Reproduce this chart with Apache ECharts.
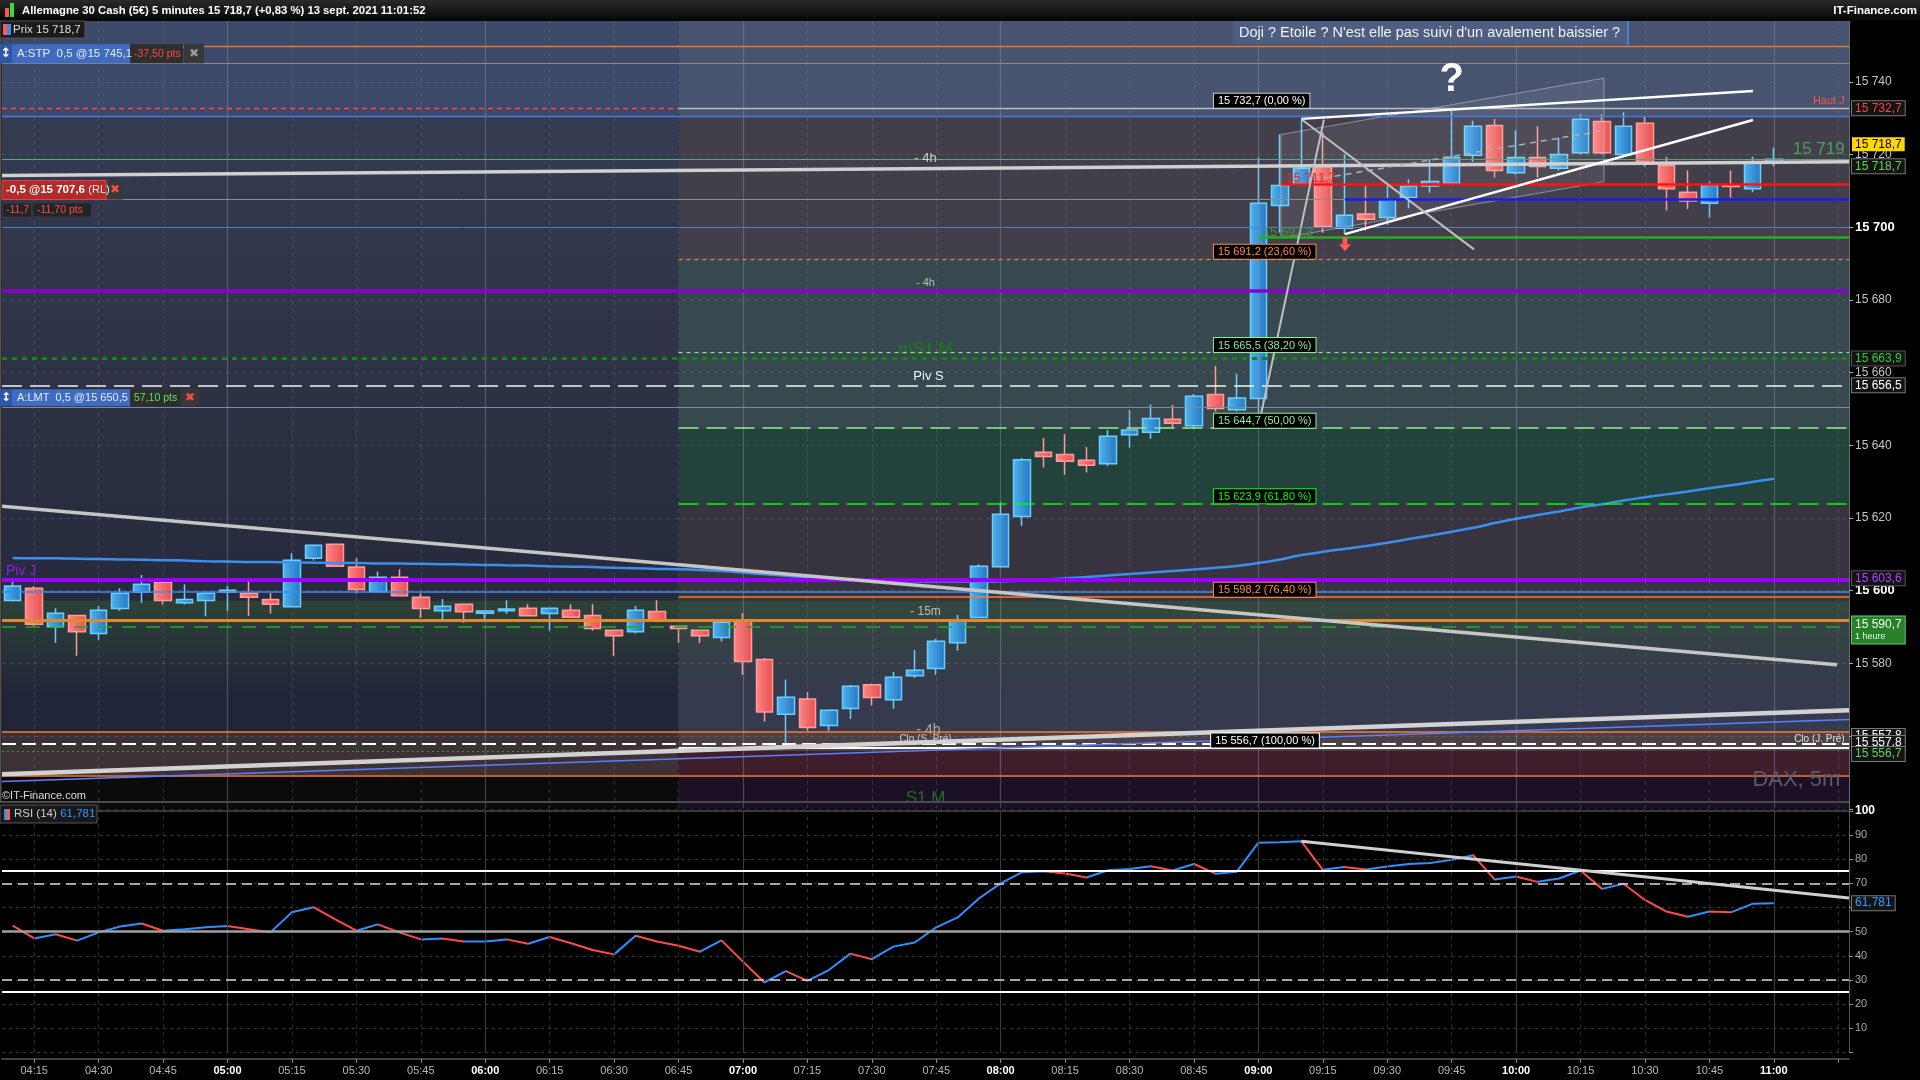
<!DOCTYPE html>
<html><head><meta charset="utf-8">
<script src="https://cdn.jsdelivr.net/npm/echarts@6/dist/echarts.min.js"></script>
<style>html,body{margin:0;padding:0;background:#000;}#c{width:1920px;height:1080px;}</style>
</head><body><div id="c"></div>
<script>
// ---------- DATA ----------
const categories = ['04:10','04:15','04:20','04:25','04:30','04:35','04:40','04:45','04:50','04:55',
'05:00','05:05','05:10','05:15','05:20','05:25','05:30','05:35','05:40','05:45','05:50','05:55',
'06:00','06:05','06:10','06:15','06:20','06:25','06:30','06:35','06:40','06:45','06:50','06:55',
'07:00','07:05','07:10','07:15','07:20','07:25','07:30','07:35','07:40','07:45','07:50','07:55',
'08:00','08:05','08:10','08:15','08:20','08:25','08:30','08:35','08:40','08:45','08:50','08:55',
'09:00','09:05','09:10','09:15','09:20','09:25','09:30','09:35','09:40','09:45','09:50','09:55',
'10:00','10:05','10:10','10:15','10:20','10:25','10:30','10:35','10:40','10:45','10:50','10:55',
'11:00','11:05','11:10','11:15'];

const opens = [15597.3,15600.7,15590.1,15593.2,15588.2,15595.1,15599.6,15602.3,15596.7,15597.3,
15599.6,15599.3,15597.6,15595.6,15608.9,15612.8,15606.5,15599.7,15603.7,15598.2,
15594.5,15596.3,15593.8,15594.5,15595.2,15593.7,15594.6,15593.2,15589.1,15588.7,
15594.3,15590.2,15589.1,15587.1,15591.9,15581.1,15566.0,15570.2,15562.9,15567.6,
15574.1,15570.0,15576.6,15578.6,15585.7,15592.6,15606.6,15620.4,15638.1,15637.5,
15635.9,15634.9,15642.9,15643.6,15647.2,15645.4,15654.0,15649.8,15652.9,15706.0,
15711.9,15716.7,15699.7,15703.6,15702.7,15708.2,15711.3,15712.1,15719.8,15728.0,
15715.0,15719.2,15716.2,15720.5,15729.1,15720.0,15728.6,15717.0,15709.6,15706.6,
15711.4,15710.6,15718.0];
const closes = [15601.3,15590.8,15593.8,15588.7,15594.6,15599.3,15601.8,15597.3,15597.6,15599.3,
15600.1,15598.2,15596.3,15608.4,15612.5,15606.7,15600.3,15603.7,15598.6,15595.1,
15595.7,15594.2,15594.4,15595.0,15593.1,15595.2,15592.7,15589.6,15587.6,15594.6,
15591.9,15589.6,15587.6,15591.3,15580.5,15566.6,15570.7,15562.4,15567.1,15573.7,
15570.6,15576.2,15578.1,15586.1,15591.7,15606.7,15621.0,15636.0,15636.9,15635.6,
15634.5,15642.5,15644.2,15647.4,15646.1,15653.5,15650.1,15653.0,15706.6,15711.5,
15716.2,15700.2,15703.3,15702.2,15707.5,15711.3,15712.6,15719.2,15727.8,15715.6,
15719.2,15716.7,15720.0,15729.7,15720.5,15727.8,15717.8,15710.6,15707.2,15711.5,
15711.2,15717.8,15718.7];
const lows = [15597.0,15590.3,15585.7,15582.1,15586.4,15594.5,15596.7,15596.2,15596.2,15593.0,
15594.4,15593.1,15593.7,15595.4,15608.3,15606.6,15599.2,15599.6,15598.5,15592.5,
15592.1,15591.2,15592.2,15593.6,15593.0,15589.0,15592.5,15589.0,15582.1,15588.2,
15591.5,15585.6,15585.6,15586.0,15576.8,15564.0,15556.7,15561.5,15561.5,15564.7,
15568.4,15567.5,15576.0,15576.9,15583.5,15592.4,15606.3,15617.9,15633.9,15631.9,
15632.5,15634.3,15639.3,15641.8,15644.9,15644.5,15649.3,15649.3,15644.9,15698.5,
15711.5,15698.5,15698.0,15699.1,15700.6,15705.2,15709.5,15712.0,15718.0,15713.7,
15714.5,15713.7,15715.6,15720.0,15720.0,15719.5,15716.7,15704.6,15705.0,15702.6,
15708.1,15709.6,15716.7];
const highs = [15602.7,15601.3,15595.2,15593.4,15595.8,15600.7,15604.3,15602.5,15601.8,15599.8,
15601.3,15602.7,15599.4,15610.3,15612.6,15612.9,15609.0,15605.3,15605.9,15599.3,
15597.7,15596.4,15594.5,15597.4,15596.3,15595.3,15596.3,15596.3,15589.2,15595.8,
15597.4,15590.3,15589.2,15591.4,15593.8,15581.5,15575.6,15572.1,15567.2,15574.1,
15574.5,15577.6,15583.7,15586.7,15593.3,15607.3,15624.4,15636.5,15642.0,15643.1,
15639.5,15644.2,15649.7,15651.2,15651.1,15654.1,15661.8,15659.6,15719.2,15725.6,
15729.7,15726.2,15720.1,15711.3,15711.3,15713.2,15718.5,15732.7,15729.3,15729.8,
15726.7,15727.8,15724.7,15731.1,15731.1,15731.6,15730.4,15719.4,15715.7,15712.6,
15715.7,15719.4,15721.9];
const maValues = [15609.0,15608.9,15608.9,15608.8,15608.7,15608.6,15608.5,15608.4,15608.3,15608.1,
15608.0,15607.9,15607.9,15607.8,15607.7,15607.6,15607.6,15607.5,15607.5,15607.4,
15607.3,15607.2,15607.1,15607.0,15606.9,15606.7,15606.6,15606.5,15606.3,15606.2,
15606.0,15605.9,15605.7,15605.4,15605.0,15604.5,15604.1,15603.7,15603.3,15603.0,
15602.8,15602.7,15602.6,15602.5,15602.5,15602.5,15602.6,15602.8,15603.1,15603.4,
15603.8,15604.2,15604.6,15605.0,15605.4,15605.8,15606.3,15606.8,15607.6,15608.6,
15609.8,15610.7,15611.5,15612.3,15613.2,15614.2,15615.2,15616.2,15617.3,15618.6,
15619.8,15620.8,15621.8,15622.9,15623.8,15624.8,15625.7,15626.5,15627.3,15628.2,
15629.0,15629.9,15630.8];
const rsiValues = [52.5,47.2,48.9,46.3,49.7,52.1,53.4,50.4,51.0,51.8,
52.3,51.0,49.7,58.0,60.1,55.2,50.4,53.0,49.7,46.8,
47.2,45.9,45.9,46.8,45.0,47.8,45.2,42.4,40.6,48.3,
45.9,44.2,41.7,46.4,37.6,29.0,33.7,29.6,34.1,40.9,
38.6,43.8,45.5,51.8,55.9,63.8,70.0,74.6,75.0,74.1,
72.4,75.4,75.9,77.1,75.3,78.0,74.0,74.8,86.8,87.0,
87.4,75.6,76.7,75.7,77.0,78.0,78.4,79.7,81.6,71.6,
72.8,70.6,72.0,75.3,67.7,69.8,63.1,58.3,56.2,58.3,
58.0,61.5,61.8];

const fibLevels = [15732.7, 15691.2, 15665.5, 15644.7, 15623.9, 15598.2, 15556.7];
const fibPercents = ['0,00', '23,60', '38,20', '50,00', '61,80', '76,40', '100,00'];
const priceTicks = {min: 15540, max: 15760, step: 20};
const rsiTicks = {min: 0, max: 100, step: 10};
// trend lines: [xIndex1, price1, xIndex2, price2]
const trendDown = [-0.5, 15623.2, 84.94, 15579.6];
const trend4h = [-0.5, 15714.2, 85.5, 15718.0];
const trendUpLow = [-0.5, 15549.5, 85.5, 15567.1];
const trendUpBlue = [-0.5, 15547.5, 85.5, 15564.6];
const pennantTop = [60, 15729.8, 81.03, 15737.5];
const pennantBottom = [62.03, 15698.1, 81.03, 15729.5];
const diagDown = [60, 15729.7, 68.04, 15693.9];
const diagSteep = [58.0, 15645.1, 61.05, 15729.6];
const diagDashed = [61.05, 15713.5, 73.9, 15726.4];
const channelPoly = [[59.05, 15725.5], [74.09, 15741.0], [74.09, 15712.5], [59.05, 15697.0]];
const rsiTrend = [60, 87.4, 85.5, 63.9];
const rsiLevels = [100, 75, 70, 50, 30, 25];

// ---------- BUILD ----------
const FF = '"Liberation Sans", Arial, sans-serif';
const XL = -0.5, XM = 31, XR = 85.5;
const candleData = opens.map((o, i) => [o, closes[i], lows[i], highs[i]]);
const isQuarter = v => ['00','15','30','45'].indexOf(v.slice(3)) >= 0;

function hl(p, x1, x2, color, width, type) {
  return [{coord: [x1, p], lineStyle: {color, width, type: type || 'solid'}}, {coord: [x2, p]}];
}
function seg(t, color, width, type) {
  return [{coord: [t[0], t[1]], lineStyle: {color, width, type: type || 'solid'}}, {coord: [t[2], t[3]]}];
}
function area(x1, x2, p1, p2, color) {
  return [{coord: [x1, p2], itemStyle: {color}}, {coord: [x2, p1]}];
}
const vgrad = (a, b) => ({type: 'linear', x: 0, y: 0, x2: 0, y2: 1, colorStops: [{offset: 0, color: a}, {offset: 1, color: b}]});

const bgAreas = [
  area(XL, XM, 15730.6, 15760, '#3d4969'),
  area(XL, XM, 15597.4, 15730.6, vgrad('#353b50', '#262a3c')),
  area(XL, XM, 15572.7, 15597.4, vgrad('#2d4237', '#222638')),
  area(XL, XM, 15561.1, 15572.7, '#212539'),
  area(XL, XM, 15549.2, 15561.1, '#3c3236'),
  area(XL, XM, 15540, 15549.2, '#0b0b0b'),
  area(XM, XR, 15730.6, 15760, '#47536f'),
  area(XM, XR, 15691.25, 15730.6, '#423f4b'),
  area(XM, XR, 15644.5, 15691.25, '#37494f'),
  area(XM, XR, 15623.85, 15644.5, '#22423b'),
  area(XM, XR, 15597.4, 15623.85, '#38343f'),
  area(XM, XR, 15572.7, 15597.4, vgrad('#34483f', '#363a4c')),
  area(XM, XR, 15561.1, 15572.7, '#363a4e'),
  area(XM, XR, 15555.9, 15561.1, '#4b4147'),
  area(XM, XR, 15549.2, 15555.9, '#3f1e2b'),
  area(XM, XR, 15540, 15549.2, '#1c1026')
];

const vPrice = [], vRsi = [];
categories.forEach((c, i) => {
  if (!isQuarter(c)) return;
  const hour = c.endsWith(':00');
  vPrice.push({xAxis: i, lineStyle: hour ? {color: 'rgba(150,155,175,0.38)', width: 1.2, type: 'solid'} : {color: 'rgba(130,135,160,0.30)', width: 1, type: [4, 4]}});
  vRsi.push({xAxis: i, lineStyle: hour ? {color: '#3a3a3a', width: 1.2, type: 'solid'} : {color: '#2a2a2a', width: 1, type: [4, 4]}});
});

const levelLines = [
  hl(15749.8, XL, XR, '#e8782a', 1.3),
  hl(15745.1, XL, XR, '#8a8a8a', 1),
  hl(fibLevels[0], XL, XM, '#ff4a4a', 1.3, [5, 4]),
  hl(fibLevels[0], XM, XR, '#bcbcbc', 1.3),
  hl(15730.5, XL, XR, '#4a78e0', 1.3),
  hl(15718.7, XL, XR, '#5aa87a', 1),
  hl(15707.6, XL, XR, '#8c8c8c', 1),
  hl(15700, XL, XR, '#4a7fc0', 1),
  hl(15711.7, 59.05, XR, '#ff1414', 2.5),
  hl(15707.8, 62.03, XR, '#1a1aff', 2.5),
  hl(15697.3, 58.0, XR, '#22b022', 2.5),
  hl(fibLevels[1], XM, XR, '#f08040', 1.2, [4, 4]),
  hl(15682.4, XL, XR, '#8a00d0', 3.5),
  hl(fibLevels[2], XM, XR, '#8de88d', 1.2, [4, 4]),
  hl(15664.0, XL, XR, '#0f8a0f', 3, [5, 5]),
  hl(15656.5, XL, XR, '#f4f4f4', 1.6, [20, 8]),
  hl(15650.5, XL, XR, '#7d8aa4', 1),
  hl(fibLevels[3], XM, XR, '#90ee90', 1.5, [20, 8]),
  hl(fibLevels[4], XM, XR, '#00ff00', 1.5, [20, 8]),
  hl(15603.1, XL, XR, '#9a00ff', 4),
  hl(15599.6, XL, XR, '#3a8ee6', 1.5),
  hl(fibLevels[5], XM, XR, '#ff7a30', 1.5),
  hl(15592.0, XL, XR, '#e08a30', 3),
  hl(15590.2, XL, XR, '#22aa22', 1.5, [14, 10]),
  hl(15561.1, XL, XR, '#ff7a30', 1.5),
  hl(15555.9, XL, XM, '#2a9a2a', 1, [2, 3]),
  hl(15557.8, XL, XR, '#ffffff', 2, [14, 6]),
  hl(fibLevels[6], XM, XR, '#ffffff', 2),
  hl(15549.2, XL, XR, '#ff7a30', 1.5),
  seg(trendDown, '#c6c6c6', 3.5),
  seg(trend4h, '#d0d0d0', 3.5),
  seg(trendUpLow, '#d2d2d2', 4.5),
  seg(trendUpBlue, '#5a7fff', 1.5),
  seg(pennantTop, '#ffffff', 2.5),
  seg(pennantBottom, '#ffffff', 2.5),
  seg(diagDown, '#c0c0c0', 2),
  seg(diagSteep, '#c0c0c0', 2),
  seg(diagDashed, '#b0b0b0', 1.5, [6, 5])
];

const rsiLines = [
  {yAxis: rsiLevels[0], lineStyle: {color: '#474747', width: 1.5, type: 'solid'}},
  {yAxis: rsiLevels[1], lineStyle: {color: '#ffffff', width: 2, type: 'solid'}},
  {yAxis: rsiLevels[2], lineStyle: {color: '#d8d8d8', width: 1.6, type: [10, 6]}},
  {yAxis: rsiLevels[3], lineStyle: {color: '#a0a0a0', width: 2.5, type: 'solid'}},
  {yAxis: rsiLevels[4], lineStyle: {color: '#d8d8d8', width: 1.6, type: [10, 6]}},
  {yAxis: rsiLevels[5], lineStyle: {color: '#ffffff', width: 2, type: 'solid'}},
  seg(rsiTrend, '#cfcfcf', 3)
];

const rsiPieces = [{lte: 0, color: '#2f8fff'}];
for (let i = 1; i < rsiValues.length; i++) {
  rsiPieces.push({gt: i - 1, lte: i, color: rsiValues[i] >= rsiValues[i - 1] ? '#2f8fff' : '#ff4a4a'});
}

const mk = (data) => ({silent: true, symbol: ['none', 'none'], label: {show: false}, emphasis: {disabled: true}, animation: false, data});

const upGrad = {type: 'linear', x: 0, y: 0, x2: 1, y2: 0, colorStops: [{offset: 0, color: '#4fb3f0'}, {offset: 1, color: '#2476c0'}]};
const dnGrad = {type: 'linear', x: 0, y: 0, x2: 1, y2: 0, colorStops: [{offset: 0, color: '#ff8585'}, {offset: 1, color: '#e84e4e'}]};

const option = {
  backgroundColor: '#000',
  animation: false,
  textStyle: {fontFamily: FF},
  grid: [
    {left: 2, right: 71, top: 9.1, height: 799.7},
    {left: 2, right: 71, top: 810.8, height: 241.7}
  ],
  xAxis: [
    {type: 'category', gridIndex: 0, data: categories, boundaryGap: true, axisLine: {show: false, onZero: false}, axisTick: {show: false}, axisLabel: {show: false}, splitLine: {show: false}},
    {type: 'value', gridIndex: 0, min: XL, max: XR, show: false, axisLine: {onZero: false}},
    {type: 'category', gridIndex: 1, data: categories, boundaryGap: true, offset: 6.5, z: 1.5,
      axisLine: {onZero: false, lineStyle: {color: '#5a5a5a', width: 1.5}},
      axisTick: {show: true, alignWithLabel: true, length: 4, interval: (i, v) => isQuarter(v), lineStyle: {color: '#888'}},
      axisLabel: {interval: (i, v) => isQuarter(v) && i <= 82, color: '#b8b8b8', fontSize: 11, margin: 6,
        formatter: v => v.endsWith(':00') ? '{b|' + v + '}' : v,
        rich: {b: {fontWeight: 'bold', color: '#ffffff', fontSize: 11}}},
      splitLine: {show: false}},
    {type: 'value', gridIndex: 1, min: XL, max: XR, show: false, axisLine: {onZero: false}}
  ],
  yAxis: [
    {type: 'value', gridIndex: 0, position: 'right', min: priceTicks.min, max: priceTicks.max, interval: priceTicks.step, z: 1.5,
      axisLine: {show: true, onZero: false, lineStyle: {color: '#6a6a6a'}},
      axisTick: {show: true, length: 4, lineStyle: {color: '#aaa'}},
      axisLabel: {margin: 6, color: '#c4c4c4', fontSize: 12,
        formatter: v => { if (v < 15580 || v > 15740) return ''; const s = String(v).slice(0, 2) + ' ' + String(v).slice(2); return v % 100 === 0 ? '{b|' + s + '}' : s; },
        rich: {b: {fontWeight: 'bold', color: '#ffffff', fontSize: 13}}},
      splitLine: {show: true, lineStyle: {color: 'rgba(130,135,160,0.30)', type: [4, 4]}}},
    {type: 'value', gridIndex: 1, position: 'right', min: rsiTicks.min, max: rsiTicks.max, interval: rsiTicks.step, z: 1.5,
      axisLine: {show: true, onZero: false, lineStyle: {color: '#5a5a5a'}},
      axisTick: {show: true, length: 4, lineStyle: {color: '#888'}},
      axisLabel: {margin: 6, color: '#a8a8a8', fontSize: 11,
        formatter: v => v === 0 ? '' : (v === 100 ? '{b|100}' : String(v)),
        rich: {b: {fontWeight: 'bold', color: '#ffffff', fontSize: 12}}},
      splitLine: {show: true, lineStyle: {color: '#353535', type: [3, 4]}}}
  ],
  visualMap: [{type: 'piecewise', show: false, seriesIndex: 7, dimension: 0, pieces: rsiPieces, outOfRange: {color: '#2f8fff'}}],
  series: [
    {name: 'bg', type: 'line', xAxisIndex: 1, yAxisIndex: 0, data: [], z: 1, silent: true, markArea: {silent: true, animation: false, data: bgAreas}},
    {name: 'vgrid', type: 'line', xAxisIndex: 1, yAxisIndex: 0, data: [], z: 1.2, silent: true, markLine: mk(vPrice)},
    {name: 'DAX', type: 'candlestick', xAxisIndex: 0, yAxisIndex: 0, data: candleData, z: 2.5, barWidth: 17,
      itemStyle: {color: upGrad, color0: dnGrad, borderColor: '#6ccfff', borderColor0: '#ff9c9c', borderWidth: 1.5}},
    {name: 'MA', type: 'line', xAxisIndex: 0, yAxisIndex: 0, data: maValues, z: 3, symbol: 'none', smooth: 0.3,
      lineStyle: {color: '#3b8ff0', width: 2.5}},
    {name: 'levels', type: 'line', xAxisIndex: 1, yAxisIndex: 0, data: [], z: 3.2, silent: true, markLine: mk(levelLines),
      markPoint: {silent: true, label: {show: false}, data: [{coord: [62.03, 15695.3], symbol: 'path://M3,0L7,0L7,6L10,6L5,12L0,6L3,6Z', symbolSize: [12, 14], itemStyle: {color: '#ff5a5a'}}]}},
    {name: 'channel', type: 'custom', xAxisIndex: 1, yAxisIndex: 0, z: 3, silent: true, data: [[60, 15720]],
      renderItem: (params, api) => ({type: 'polygon', shape: {points: channelPoly.map(q => api.coord(q))},
        style: {fill: 'rgba(255,255,255,0.07)', stroke: 'rgba(215,215,215,0.5)', lineWidth: 1}})},
    {name: 'vgridRsi', type: 'line', xAxisIndex: 3, yAxisIndex: 1, data: [], z: 1.2, silent: true, markLine: mk(vRsi)},
    {name: 'RSI', type: 'line', xAxisIndex: 2, yAxisIndex: 1, data: rsiValues, z: 4, symbol: 'none', lineStyle: {width: 2}},
    {name: 'rsiLevels', type: 'line', xAxisIndex: 3, yAxisIndex: 1, data: [], z: 3, silent: true, markLine: mk(rsiLines)}
  ]
};

const chart = echarts.init(document.getElementById('c'));
chart.setOption(option);

// ---------- ANNOTATIONS (positioned through the chart's own scales) ----------
const PX = i => chart.convertToPixel({xAxisIndex: 1}, i);
const PY = p => chart.convertToPixel({yAxisIndex: 0}, p);
const RY = r => chart.convertToPixel({yAxisIndex: 1}, r);
const G = [];
function txt(x, y, text, o, z) {
  G.push({type: 'text', x, y, z: z == null ? 100 : z, silent: true,
    style: Object.assign({text, fill: '#ddd', fontSize: 12, fontFamily: FF, align: 'left', verticalAlign: 'middle'}, o || {})});
}
function box(x, y, w, h, fill, stroke, z) {
  G.push({type: 'rect', z: z == null ? 99 : z, silent: true, shape: {x, y, width: w, height: h},
    style: {fill, stroke: stroke || null, lineWidth: stroke ? 1 : 0}});
}

// title bar
box(0, 0, 1920, 21, new echarts.graphic.LinearGradient(0, 0, 0, 1, [{offset: 0, color: '#2a2a2a'}, {offset: 1, color: '#050505'}]));
box(5, 8, 4, 9, '#ff5555'); box(10, 3, 4, 14, '#33dd33');
txt(22, 11, 'Allemagne 30 Cash (5€) 5 minutes 15 718,7 (+0,83 %) 13 sept. 2021 11:01:52', {fill: '#fff', fontWeight: 'bold', fontSize: 11.3});
txt(1917, 11, 'IT-Finance.com', {align: 'right', fill: '#fff', fontWeight: 'bold', fontSize: 11.5});

// panel separator + left border
box(0, 801, 1849, 2, '#4a4a4a', null, 60);
box(0, 21, 1.5, 781, '#555', null, 60);

// comment box
box(1233, 21, 396, 23, '#4e5d82');
box(1627, 21, 2, 24, '#4a7fe0');
txt(1239, 32.5, "Doji ? Etoile ? N'est elle pas suivi d'un avalement baissier ?", {fill: '#f2f2f2', fontSize: 14.5});

// Prix badge
box(0, 21, 85, 17, '#1b1b1b', '#555');
box(3, 24, 4, 11, '#ff5a5a'); box(7, 24, 4, 11, '#3a8ee6');
txt(13, 30, 'Prix 15 718,7', {fill: '#dcdcdc', fontSize: 11.5});

// A:STP order
let yb = PY(15745.1), yt = yb - 19;
box(0, yt, 12, 19, '#2d55a8'); txt(6, yt + 9.5, '↕', {align: 'center', fill: '#fff', fontWeight: 'bold', fontSize: 13, fontFamily: 'DejaVu Sans'});
box(12, yt, 118, 19, '#3f6cc0'); txt(17, yt + 9.5, 'A:STP  0,5 @15 745,1', {fill: '#e4ebf8', fontSize: 11.5});
box(130, yt, 53, 19, '#2e2e2e'); txt(134, yt + 9.5, '-37,50 pts', {fill: '#ff4545', fontSize: 10.5});
box(184, yt, 20, 19, '#383838'); txt(194, yt + 9.5, '✖', {align: 'center', fill: '#9a9a9a', fontSize: 12, fontFamily: 'DejaVu Sans'});

// RL order
yb = PY(15707.6); yt = yb - 19;
box(2, yt, 104, 19, '#b32a2a', '#e04444');
txt(6, yt + 9.5, '{a|-0,5 @15 707,6} {b|(RL)}', {rich: {a: {fill: '#fff', fontWeight: 'bold', fontSize: 11.5, fontFamily: FF}, b: {fill: '#eee', fontSize: 11, fontFamily: FF}}});
box(107, yt, 16, 19, '#383838'); txt(115, yt + 9.5, '✖', {align: 'center', fill: '#ff4a4a', fontSize: 12, fontFamily: 'DejaVu Sans'});
box(3, yb + 4, 28, 13, '#242424'); txt(6, yb + 10.5, '-11,7', {fill: '#ff4a4a', fontSize: 10.5});
box(33, yb + 4, 58, 13, '#242424'); txt(37, yb + 10.5, '-11,70 pts', {fill: '#ff4a4a', fontSize: 10.5});

// A:LMT order
yb = PY(15650.5) - 1; yt = yb - 17;
box(0, yt, 12, 17, '#2d55a8'); txt(6, yt + 8.5, '↕', {align: 'center', fill: '#fff', fontWeight: 'bold', fontSize: 12, fontFamily: 'DejaVu Sans'});
box(12, yt, 118, 17, '#3f6cc0'); txt(17, yt + 8.5, 'A:LMT  0,5 @15 650,5', {fill: '#e4ebf8', fontSize: 11});
box(130, yt, 50, 17, '#2e2e2e'); txt(134, yt + 8.5, '57,10 pts', {fill: '#5ee05e', fontSize: 10.5});
box(181, yt, 18, 17, '#383838'); txt(190, yt + 8.5, '✖', {align: 'center', fill: '#ff4a4a', fontSize: 12, fontFamily: 'DejaVu Sans'});

// fib labels
const fibColors = ['#d0d0d0', '#ff8c42', '#90ee90', '#90ee90', '#00ff00', '#ff8c42', '#ffffff'];
fibLevels.forEach((lv, k) => {
  const s = String(lv).slice(0, 2) + ' ' + String(lv).slice(2).replace('.', ',');
  txt(PX(k === 6 ? 55.8 : 55.93), PY(lv) - 0.5, s + ' (' + fibPercents[k] + ' %)',
    {verticalAlign: 'bottom', fill: k === 0 || k === 6 ? '#ffffff' : fibColors[k], fontSize: 11, backgroundColor: '#000', borderColor: fibColors[k], borderWidth: 1, padding: [2, 4, 1, 4]});
});

// in-chart texts
const xc = PX(42.5);
txt(xc, PY(15718.8), '- 4h', {align: 'center', fill: '#cfcfcf', fontSize: 13});
txt(xc, PY(15684.6), '- 4h', {align: 'center', fill: '#bdbdbd', fontSize: 11});
txt(xc, PY(15666.4), 'mS1 M', {align: 'center', fill: '#1d7d1d', fontSize: 17}, 2.8);
txt(xc + 3, PY(15658.9), 'Piv S', {align: 'center', fill: '#f2f2f2', fontSize: 13});
txt(xc, PY(15594.2), '- 15m', {align: 'center', fill: '#bdbdbd', fontSize: 12});
txt(xc + 3, PY(15561.6), '- 4h', {align: 'center', fill: 'rgba(200,200,200,0.8)', fontSize: 14}, 2.9);
txt(xc, PY(15559.0), 'Clo (S. Pré)', {align: 'center', fill: '#cfcfcf', fontSize: 10});
txt(xc, PY(15543.0), 'S1 M', {align: 'center', fill: '#1e6e1e', fontSize: 17}, 2.8);
txt(6, PY(15605.3), 'Piv J', {fill: '#8a22e0', fontSize: 14});
txt(PX(85.3), PY(15734.8), 'Haut J', {align: 'right', fill: '#ff5050', fontSize: 11});
txt(PX(85.3), PY(15559.0), 'Clo (J. Pré)', {align: 'right', fill: '#e0e0e0', fontSize: 10});
txt(PX(85.3), PY(15721.3), '15 719', {align: 'right', fill: '#4f9e5f', fontSize: 17});
txt(PX(59.3), PY(15713.3), '15 711,7', {fill: '#ff2020', fontSize: 13});
txt(PX(58.2), PY(15698.6), '15 697,3', {fill: 'rgba(60,175,60,0.75)', fontSize: 13});
txt(PX(67.0), PY(15740.6), '?', {align: 'center', fill: '#ffffff', fontWeight: 'bold', fontSize: 40}, 90);
txt(PX(85.1), PY(15547.9), 'DAX, 5m', {align: 'right', fill: '#575b6b', fontSize: 22});
txt(2, 796, '©IT-Finance.com', {fill: '#dcdcdc', fontSize: 11});

// right axis badges
const BX = 1852;
function rb(y, s, fill, bg, border, extra) {
  txt(BX, y, s, Object.assign({fill, fontSize: 12, backgroundColor: bg, borderColor: border || null, borderWidth: border ? 1 : 0, padding: [1, 3, 1, 3]}, extra || {}));
}
rb(PY(15732.7), '15 732,7', '#ff4040', '#141414', '#777');
rb(PY(15718.7) - 15, '15 718,7', '#000', '#ffd700', null);
rb(PY(15718.7) + 7, '15 718,7', '#5fd35f', '#141414', '#777');
rb(PY(15663.9), '15 663,9', '#2ecc40', '#141414', '#555');
rb(PY(15656.5), '15 656,5', '#ffffff', '#141414', '#777');
rb(PY(15603.4), '15 603,6', '#b040ff', '#141414', '#555');
txt(BX, PY(15590.7) - 8, '{a|15 590,7}\n{b|1 heure}', {backgroundColor: '#2a7f2a', borderColor: '#66cc66', borderWidth: 1, padding: [1, 3, 1, 3], verticalAlign: 'top',
  rich: {a: {fill: '#f0fff0', fontSize: 12, fontFamily: FF, lineHeight: 14}, b: {fill: '#e0ffe0', fontSize: 9, fontFamily: FF, lineHeight: 11}}});
rb(PY(15557.8) - 8, '15 557,8', '#ffffff', '#141414', '#777');
rb(PY(15557.8) - 1, '15 557,8', '#ffffff', '#141414', '#777');
rb(PY(15556.7) + 6, '15 556,7', '#5fd35f', '#141414', '#777');

// RSI badges
box(0, 805, 97, 18, '#181818', '#555');
box(4, 809, 3, 11, '#3a8ee6'); box(7, 809, 3, 11, '#ff5a5a');
txt(14, 814, '{a|RSI (14)} {b|61,781}', {rich: {a: {fill: '#cfcfcf', fontSize: 11.5, fontFamily: FF}, b: {fill: '#3399ff', fontSize: 11.5, fontFamily: FF}}});
rb(RY(61.781), '61,781', '#3399ff', '#141414', '#777');

chart.setOption({graphic: {elements: G}});
</script>
</body></html>
